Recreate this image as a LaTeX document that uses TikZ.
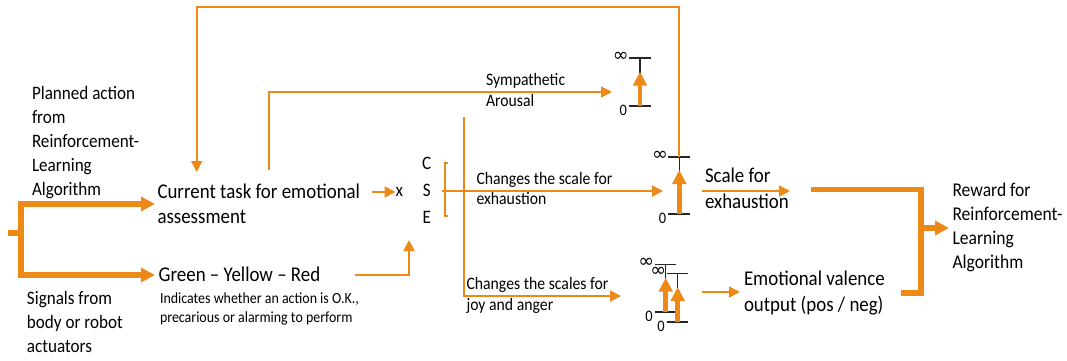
\documentclass[tikz,border=0pt]{standalone}
\usepackage{fontspec}
\setmainfont{Carlito}[FakeStretch=0.9]
\newfontfamily\dvs{DejaVu Sans}
\usetikzlibrary{arrows.meta}
\definecolor{org}{RGB}{237,137,22}
\newcommand\fsz[2]{\fontsize{#1}{#2}\selectfont}
\newcommand\myscale[5]{%
  \coordinate (#1t) at (#2,#3);
  \coordinate (#1b) at (#2,#4);
  \coordinate (#1p) at (#2,#5);
  \draw[tick] ({#2-11},#3) -- ({#2+10.5},#3);
  \draw[tick] ({#2-11},#4) -- ({#2+10.5},#4);
  \draw[tick] (#1t) -- (#1b);
  \draw[sarr] (#1b) -- (#1p);
  \node[inflbl] (#1inf) at ({#2-19.3},{#3-1.5}) {∞};
  \node[lbl] (#1zero) at ({#2-16.7},{#4+4.5}) {0};
}
\tikzset{
  ln/.style={draw=org, line width=1.8pt},
  la/.style={ln, -{Triangle[length=11pt,width=11pt]}},
  thk/.style={draw=org, line width=5.5pt},
  tka/.style={thk, -{Triangle[length=14pt,width=14pt]}},
  tick/.style={draw=black!85, line width=1.5pt},
  sarr/.style={draw=org, line width=4.5pt, -{Triangle[length=14pt,width=13.5pt]}},
  lbl/.style={inner sep=0, outer sep=0, font=\fsz{16}{18}},
  inflbl/.style={inner sep=0, outer sep=0, font=\dvs\fsz{19}{21}},
  txt/.style={anchor=north west, inner sep=0, outer sep=0, align=left},
}
\begin{document}
\begin{tikzpicture}[x=1pt,y=-1pt]
\useasboundingbox (0,0) rectangle (1067,360);

% text blocks
\node[txt, font=\fsz{19}{24}] (planned) at (32,82.5) {\strut Planned action\\from\\Reinforcement-\\Learning\\Algorithm};
\node[txt, font=\fsz{19}{24}] (signals) at (27,287.2) {\strut Signals from\\body or robot\\actuators};
\node[txt, font=\fsz{21}{25.7}] (cur) at (157.5,180.3) {\strut Current task for emotional\\assessment};
\node[anchor=base west, inner sep=0, font=\fsz{21}{26}] (gyr) at (158.5,281.7) {Green – Yellow – Red};
\node[txt, font=\fsz{15.5}{19.4}] (ind) at (160,289.7) {\strut Indicates whether an action is O.K.,\\precarious or alarming to perform};
\node[anchor=base, inner sep=0, font=\fsz{19}{20}] (mult) at (399.3,196) {x};
\node[anchor=north, inner sep=0, align=center, font=\fsz{19}{27}] (cse) at (426.7,150.1) {\strut C\\S\\E};
\node[txt, font=\fsz{17.5}{20.7}] (symp) at (486,71.5) {\strut Sympathetic\\Arousal};
\node[txt, font=\fsz{17.5}{20.5}] (chg1) at (476.5,169.95) {\strut Changes the scale for\\exhaustion};
\node[txt, font=\fsz{17.5}{21}] (chg2) at (466.5,274.3) {\strut Changes the scales for\\joy and anger};
\node[txt, font=\fsz{21}{26.7}] (scalefor) at (705,163.6) {\strut Scale for\\exhaustion};
\node[txt, font=\fsz{21}{26}] (emo) at (744,267.5) {\strut Emotional valence\\output (pos / neg)};
\node[txt, font=\fsz{19.5}{24}] (reward) at (952.5,179.2) {\strut Reward for\\Reinforcement-\\Learning\\Algorithm};

% scales
\myscale{s1}{640}{58}{106}{71.7}
\myscale{s2}{679.3}{157}{214}{170}
\myscale{s3}{665.7}{264.3}{312}{277.7}
\myscale{s4}{677.7}{273.7}{322}{287}

% coordinates
\coordinate (jn) at (8,233);
\coordinate (jv) at (21,233);
\coordinate (curin) at (155,204);
\coordinate (gyrin) at (155,275);
\coordinate (curout) at (372,192);
\coordinate (multin) at (395.5,192);
\coordinate (gyout) at (355,275);
\coordinate (csein) at (409,240);
\coordinate (brk) at (442,191);
\coordinate (s2in) at (663,191);
\coordinate (vtop) at (464,117);
\coordinate (s3in) at (621,296);
\coordinate (ctup) at (269,170);
\coordinate (s1in) at (612,92);
\coordinate (fbtop) at (0,7);
\coordinate (fbin) at (196.7,172);
\coordinate (s2out) at (701.7,191);
\coordinate (exin) at (790,191);
\coordinate (s34out) at (701.7,292);
\coordinate (emoin) at (740,292);
\coordinate (exout) at (811,189.5);
\coordinate (emoout) at (901,293);
\coordinate (mrg) at (921,228);
\coordinate (rwin) at (949,228);

% thick input arrows
\draw[thk] (jn) -- (jv);
\draw[tka] (jv) |- (curin);
\draw[tka] (jv) |- (gyrin);

% thin connectors
\draw[la] (curout) -- (multin);
\draw[la] (gyout) -| (csein);
\draw[ln] (448,163) -- (445,163) -- (445,216) -- (448,216);
\draw[la] (brk) -- (s2in);
\draw[la] (vtop) |- (s3in);
\draw[la] (ctup) |- (s1in);
\draw[la] (s2t) -- (s2t |- fbtop) -| (fbin);
\draw[la] (s2out) -- (exin);
\draw[la] (s34out) -- (emoin);

% thick output
\draw[thk] (exout) -| (mrg |- emoout) -- (emoout);
\draw[tka] (mrg) -- (rwin);
\end{tikzpicture}
\end{document}
